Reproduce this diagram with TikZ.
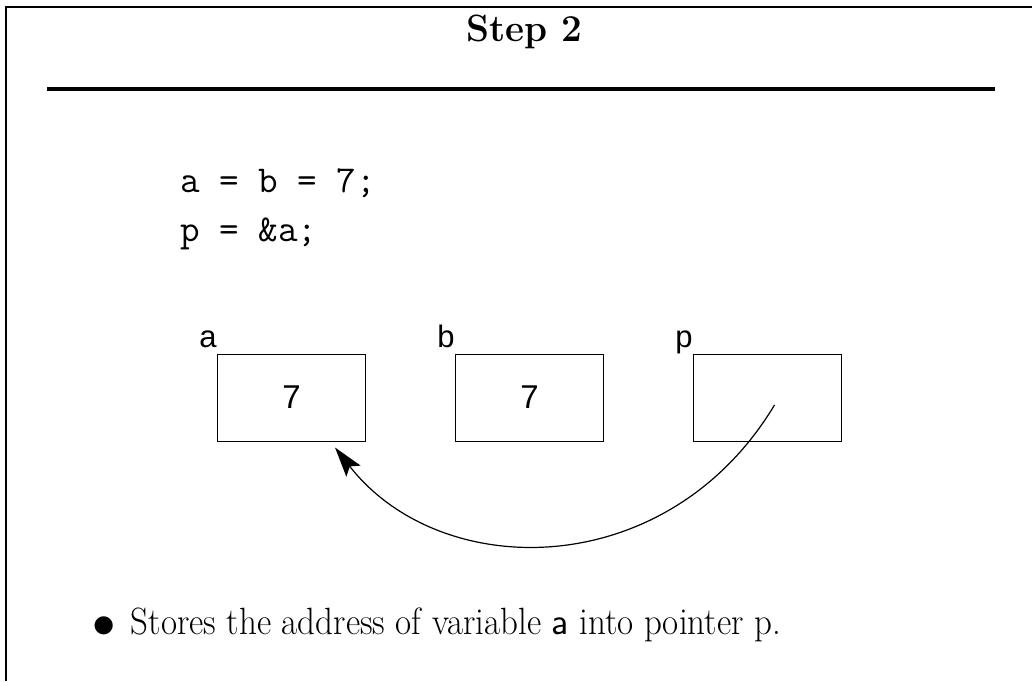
\documentclass[tikz,border=0pt]{standalone}
\usepackage{fontspec}
\newfontfamily\slideroman{lmroman17-regular.otf}[FakeStretch=0.92,BoldFont=lmroman12-bold.otf,BoldFeatures={FakeStretch=0.97}]
\newfontfamily\figfont{Liberation Sans}
\usetikzlibrary{arrows.meta}
\usetikzlibrary{positioning}

\begin{document}
\begin{tikzpicture}[x=0.5pt,y=0.5pt,
  slide/.style={inner sep=0pt,font=\slideroman\fontsize{19}{23}\selectfont},
  varbox/.style={draw,line width=0.5pt,minimum width=74pt,minimum height=43.5pt,inner sep=0pt,font=\figfont\fontsize{16.5}{19}\selectfont},
  varname/.style={anchor=base east,inner sep=0pt,font=\figfont\fontsize{15.5}{18}\selectfont},
  ptr/.style={line width=0.6pt,-{Stealth[length=15pt,width=9pt,inset=3pt]}}]
\useasboundingbox (0,0) rectangle (1032,681);
\draw[line width=1.2pt] (6,0) -- (6,674) -- (1032,674);

\node[slide,font=\slideroman\fontsize{19}{23}\selectfont\bfseries,anchor=base] (title) at (524,639) {Step 2};
\draw[line width=2pt] (47,592) -- (995,592);

\node[slide,anchor=base west] (code1) at (180,488) {\texttt{a = b = 7;}};
\node[slide,anchor=base west] (code2) at (180,439) {\texttt{p = \&a;}};

\node[varbox] (a) at (291.5,283.5) {7};
\node[varbox,right=44.5pt of a] (b) {7};
\node[varbox,right=44.5pt of b] (p) {};
\node[varname] (namea) at ([yshift=3pt]a.north west) {a};
\node[varname] (nameb) at ([yshift=3pt]b.north west) {b};
\node[varname] (namep) at ([yshift=3pt]p.north west) {p};

\coordinate (pstart) at ([xshift=3.5pt,yshift=-3.75pt]p.center);
\coordinate (aend) at ([xshift=-15.5pt,yshift=-3pt]a.south east);
\draw[ptr] (pstart) to[out=-121,in=-52,out looseness=1.2,in looseness=1.0] (aend);

\node[slide,anchor=base west] (note) at (92,47) {\raisebox{-0.1em}{\scalebox{1.35}{$\bullet$}}\hspace{0.4em}Stores the address of variable \textsf{a} into pointer p.};
\end{tikzpicture}
\end{document}
